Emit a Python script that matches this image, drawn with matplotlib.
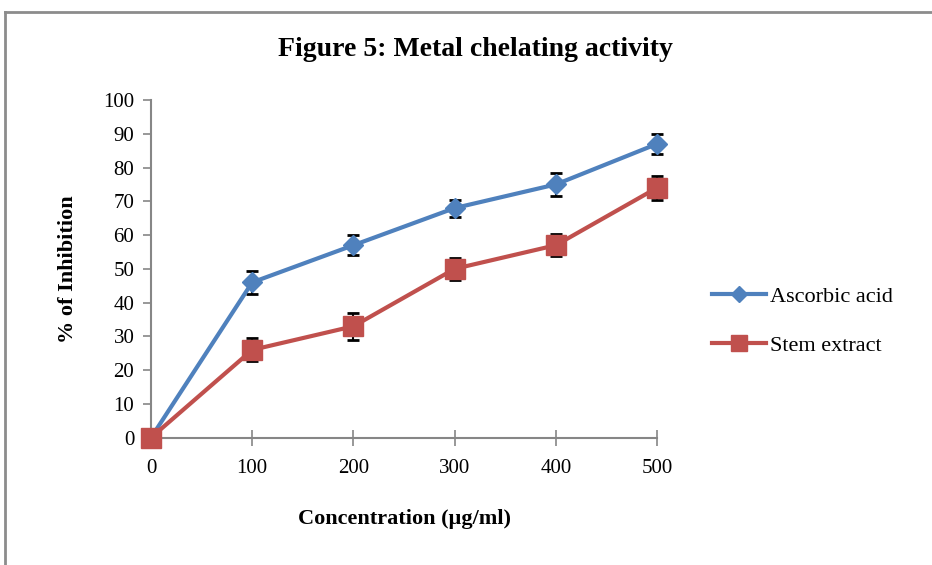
import matplotlib
matplotlib.use("Agg")
import matplotlib.pyplot as plt
from matplotlib.lines import Line2D

# Concentration (ug/ml) and % inhibition
conc = [0, 100, 200, 300, 400, 500]
ascorbic = [0, 46, 57, 68, 75, 87]
ascorbic_err = [0, 3.3, 3.0, 2.5, 3.3, 3.0]
stem = [0, 26, 33, 50, 57, 74]
stem_err = [0, 3.4, 4.0, 3.3, 3.3, 3.6]

plt.rcParams['font.family'] = ['Liberation Serif', 'DejaVu Serif']

fig = plt.figure(figsize=(9.32, 5.65), dpi=100)
ax = fig.add_axes([0.162, 0.2253, 0.543, 0.5977])

blue = '#4F81BD'
red = '#C0504D'

series = [
    (ascorbic, ascorbic_err, blue, 'D', 10, 'Ascorbic acid'),
    (stem, stem_err, red, 's', 14, 'Stem extract'),
]
handles = []
for i, (vals, errs, col, mk, ms, lab) in enumerate(series):
    ln, = ax.plot(conc, vals, color=col, lw=3, marker=mk, ms=ms,
                  label=lab, zorder=4 + i, clip_on=False)
    handles.append(ln)
    # error bars only where there is a spread (none at 0)
    xs = [x for x, e in zip(conc, errs) if e > 0]
    ys = [y for y, e in zip(vals, errs) if e > 0]
    es = [e for e in errs if e > 0]
    ax.errorbar(xs, ys, yerr=es, fmt='none', ecolor='black',
                elinewidth=1.5, capsize=4, capthick=2, zorder=3,
                clip_on=False)

ax.set_xlim(0, 500)
ax.set_ylim(0, 100)
ax.set_xticks(conc)
ax.set_yticks(range(0, 101, 10))

for s in ['top', 'right']:
    ax.spines[s].set_visible(False)
for s in ['left', 'bottom']:
    ax.spines[s].set_color('#868686')
    ax.spines[s].set_linewidth(1.5)

ax.tick_params(axis='x', direction='inout', length=11, width=1.2,
               color='#868686', labelsize=15, pad=10)
ax.tick_params(axis='y', direction='out', length=6, width=1.2,
               color='#868686', labelsize=15, pad=6)

ax.set_xlabel('Concentration (µg/ml)', fontsize=16, fontweight='bold',
              labelpad=22)
ax.set_ylabel('% of Inhibition', fontsize=16, fontweight='bold', labelpad=18)
fig.text(0.51, 0.912, 'Figure 5: Metal chelating activity', fontsize=20,
         fontweight='bold', ha='center', va='center')

ax.legend(handles, [h.get_label() for h in handles], loc='center left',
          bbox_to_anchor=(1.07, 0.345), frameon=False, fontsize=16,
          handlelength=2.4, handletextpad=0.2, labelspacing=1.3,
          markerscale=0.8)

# outer frame (top and left edges visible)
fig.add_artist(Line2D([0.0055, 1.0], [0.979, 0.979], color='#8c8c8c',
                      lw=2, transform=fig.transFigure))
fig.add_artist(Line2D([0.0055, 0.0055], [0.0, 0.979], color='#8c8c8c',
                      lw=2, transform=fig.transFigure))

fig.savefig('out.png', dpi=100)
